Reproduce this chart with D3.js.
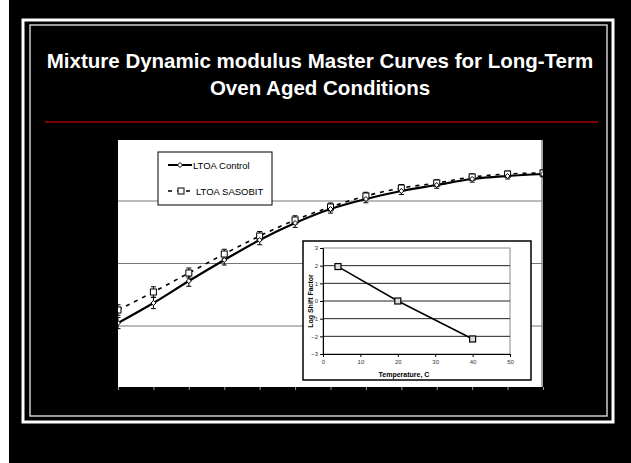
<!DOCTYPE html>
<html><head><meta charset="utf-8">
<script src="https://cdn.jsdelivr.net/npm/d3@7"></script>
<style>html,body{margin:0;padding:0;background:#000;}svg{display:block;}</style>
</head><body>
<svg id="c" width="631" height="463"></svg>
<script>
// ---- data ----
const titleLines = ["Mixture Dynamic modulus Master Curves for Long-Term", "Oven Aged Conditions"];
const logFreq = [-6,-5,-4,-3,-2,-1,0,1,2,3,4,5,6];
const controlModulus = [5240,6840,8600,10280,11880,13240,14360,15160,15800,16280,16760,17000,17160];
const sasobitModulus = [6280,7720,9240,10760,12200,13480,14520,15400,16040,16440,16920,17160,17240];
const controlErr = [450,450,420,400,380,350,330,300,280,260,250,240,230];
const sasobitErr = [420,420,400,380,360,340,320,300,280,260,250,240,230];
const gridValues = [0,5000,10000,15000,20000];
const seriesNames = ["LTOA Control","LTOA SASOBIT"];
const insetTemp = [4,20,40];
const insetShift = [1.95,0.0,-2.15];
const insetXTicks = [0,10,20,30,40,50];
const insetYTicks = [-3,-2,-1,0,1,2,3];

const svg = d3.select("#c");
svg.append("rect").attr("width",631).attr("height",463).attr("fill","#000");
svg.append("rect").attr("x",0).attr("y",0).attr("width",9).attr("height",463).attr("fill","#fff");

// frames
svg.append("rect").attr("x",23).attr("y",20).attr("width",590).attr("height",402)
  .attr("fill","none").attr("stroke","#fff").attr("stroke-width",3);
svg.append("rect").attr("x",30).attr("y",25).attr("width",577).attr("height",391)
  .attr("fill","none").attr("stroke","#ccc").attr("stroke-width",1.5);

// title
svg.selectAll("text.title").data(titleLines).join("text").attr("class","title")
  .attr("x",320).attr("y",(d,i)=>68+i*27).attr("text-anchor","middle")
  .attr("font-family","Liberation Sans, Arial, sans-serif").attr("font-weight","bold")
  .attr("font-size",20.5).attr("fill","#fff").text(d=>d);

svg.append("line").attr("x1",45).attr("x2",598).attr("y1",122).attr("y2",122)
  .attr("stroke","#7a0000").attr("stroke-width",2);

// main panel
const P = {x0:118,x1:543,y0:140,y1:387};
svg.append("rect").attr("x",P.x0).attr("y",P.y0).attr("width",P.x1-P.x0).attr("height",P.y1-P.y0).attr("fill","#fff");
svg.append("clipPath").attr("id","clipP").append("rect")
  .attr("x",P.x0).attr("y",P.y0).attr("width",P.x1-P.x0).attr("height",P.y1-P.y0);

const x = d3.scaleLinear().domain([-6,6]).range([118,543]);
const y = d3.scaleLinear().domain([0,20000]).range([388.5,138.5]);
const g = svg.append("g").attr("clip-path","url(#clipP)");

g.selectAll("line.grid").data(gridValues).join("line").attr("class","grid")
  .attr("x1",P.x0).attr("x2",P.x1).attr("y1",d=>y(d)).attr("y2",d=>y(d))
  .attr("stroke","#777").attr("stroke-width",1);
g.append("line").attr("x1",542).attr("x2",542).attr("y1",P.y0).attr("y2",P.y1)
  .attr("stroke","#888").attr("stroke-width",1.5);

// x axis ticks below panel
const xAxis = d3.axisBottom(x).tickValues(logFreq).tickSize(3).tickFormat("");
const xa = svg.append("g").attr("transform",`translate(0,${P.y1})`).call(xAxis);
xa.select(".domain").remove();
xa.selectAll(".tick line").attr("stroke","#999");

const line = d3.line().x((d,i)=>x(logFreq[i])).y(d=>y(d)).curve(d3.curveMonotoneX);
g.append("path").datum(sasobitModulus).attr("d",line).attr("fill","none")
  .attr("stroke","#000").attr("stroke-width",1.6).attr("stroke-dasharray","4,5");
g.append("path").datum(controlModulus).attr("d",line).attr("fill","none")
  .attr("stroke","#000").attr("stroke-width",2.2);

function errBars(vals, errs){
  const eg = g.append("g");
  vals.forEach((v,i)=>{
    const cx = x(logFreq[i]);
    eg.append("line").attr("x1",cx).attr("x2",cx).attr("y1",y(v-errs[i])).attr("y2",y(v+errs[i])).attr("stroke","#000").attr("stroke-width",1);
    [v-errs[i], v+errs[i]].forEach(e=>eg.append("line").attr("x1",cx-2.5).attr("x2",cx+2.5).attr("y1",y(e)).attr("y2",y(e)).attr("stroke","#000").attr("stroke-width",1));
  });
}
errBars(controlModulus, controlErr);
errBars(sasobitModulus, sasobitErr);

g.selectAll("rect.sq").data(sasobitModulus).join("rect").attr("class","sq")
  .attr("x",(d,i)=>x(logFreq[i])-3).attr("y",d=>y(d)-3).attr("width",6).attr("height",6)
  .attr("fill","#fff").attr("stroke","#000").attr("stroke-width",1);
g.selectAll("path.dm").data(controlModulus).join("path").attr("class","dm")
  .attr("d",(d,i)=>{const cx=x(logFreq[i]),cy=y(d);return `M${cx},${cy-2.5}L${cx+2.5},${cy}L${cx},${cy+2.5}L${cx-2.5},${cy}Z`;})
  .attr("fill","#fff").attr("stroke","#000").attr("stroke-width",1);

// legend
const lg = svg.append("g");
lg.append("rect").attr("x",158).attr("y",152).attr("width",114).attr("height",53)
  .attr("fill","#fff").attr("stroke","#000").attr("stroke-width",1);
lg.append("line").attr("x1",168).attr("x2",192).attr("y1",165).attr("y2",165).attr("stroke","#000").attr("stroke-width",2);
lg.append("path").attr("d","M180,162.5L182.5,165L180,167.5L177.5,165Z").attr("fill","#fff").attr("stroke","#000");
lg.append("line").attr("x1",168).attr("x2",193).attr("y1",191).attr("y2",191).attr("stroke","#000").attr("stroke-width",1.6).attr("stroke-dasharray","4,5");
lg.append("rect").attr("x",178).attr("y",188).attr("width",6).attr("height",6).attr("fill","#fff").attr("stroke","#000");
lg.selectAll("text").data(seriesNames).join("text")
  .attr("x",(d,i)=>i?196:193).attr("y",(d,i)=>i?194.5:168.5)
  .attr("font-family","Liberation Sans, Arial, sans-serif").attr("font-size",9.5).attr("fill","#000").text(d=>d);

// inset
svg.append("rect").attr("x",303).attr("y",241).attr("width",228).attr("height",139)
  .attr("fill","#fff").attr("stroke","#000").attr("stroke-width",1.5);
const ix = d3.scaleLinear().domain([0,50]).range([323,510]);
const iy = d3.scaleLinear().domain([-3,3]).range([354,248]);
const ig = svg.append("g");
ig.append("rect").attr("x",323).attr("y",248).attr("width",187).attr("height",106)
  .attr("fill","#fff").attr("stroke","#888").attr("stroke-width",1);
ig.selectAll("line.ig").data(insetYTicks.filter(d=>d>-3&&d<3)).join("line").attr("class","ig")
  .attr("x1",323).attr("x2",510).attr("y1",d=>iy(d)).attr("y2",d=>iy(d))
  .attr("stroke","#222").attr("stroke-width",1);
const iya = ig.append("g").attr("transform","translate(323,0)")
  .call(d3.axisLeft(iy).tickValues(insetYTicks).tickSize(3).tickPadding(2).tickFormat(d3.format("d")));
const ixa = ig.append("g").attr("transform","translate(0,354)")
  .call(d3.axisBottom(ix).tickValues(insetXTicks).tickSize(3).tickPadding(3).tickFormat(d3.format("d")));
[iya,ixa].forEach(a=>{
  a.select(".domain").attr("stroke","#000");
  a.selectAll(".tick line").attr("stroke","#000");
  a.selectAll("text").attr("font-family","Liberation Sans, Arial, sans-serif").attr("font-size",6).attr("fill","#333");
});
ig.append("path").datum(insetShift)
  .attr("d",d3.line().x((d,i)=>ix(insetTemp[i])).y(d=>iy(d)))
  .attr("fill","none").attr("stroke","#000").attr("stroke-width",1.5);
ig.selectAll("rect.ip").data(insetShift).join("rect").attr("class","ip")
  .attr("x",(d,i)=>ix(insetTemp[i])-3).attr("y",d=>iy(d)-3).attr("width",6).attr("height",6)
  .attr("fill","#ddd").attr("stroke","#000").attr("stroke-width",1.2);
ig.append("text").attr("x",404).attr("y",377).attr("text-anchor","middle")
  .attr("font-family","Liberation Sans, Arial, sans-serif").attr("font-weight","bold").attr("font-size",7).attr("fill","#000")
  .text("Temperature, C");
ig.append("text").attr("transform","translate(313,301) rotate(-90)").attr("text-anchor","middle")
  .attr("font-family","Liberation Sans, Arial, sans-serif").attr("font-weight","bold").attr("font-size",7).attr("fill","#000")
  .text("Log Shift Factor");
</script>
</body></html>
